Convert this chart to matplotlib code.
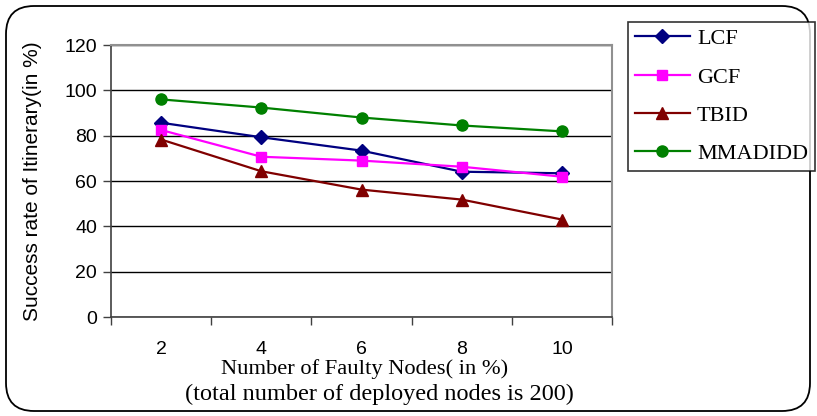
import numpy as np
import matplotlib.pyplot as plt
from matplotlib.patches import FancyBboxPatch
from matplotlib.transforms import IdentityTransform

# data
faulty_nodes = ["2", "4", "6", "8", "10"]
lcf = [85.7, 79.3, 73.4, 64.1, 63.4]
gcf = [82.5, 70.7, 69.0, 66.3, 61.9]
tbid = [78.3, 64.3, 56.2, 51.8, 43.0]
mmadidd = [96.0, 92.4, 88.0, 84.5, 81.9]

series = [
  ("LCF", lcf, "#000080", "D", 7),
  ("GCF", gcf, "#FF00FF", "s", 7),
  ("TBID", tbid, "#800000", "^", 8),
  ("MMADIDD", mmadidd, "#008000", "o", 8),
]

plt.rcParams["font.family"] = ["Liberation Sans", "DejaVu Sans"]

fig = plt.figure(figsize=(8.17, 4.16), dpi=100)
ax = fig.add_axes([111/817, 1 - 317/416, 501/817, 272/416])

x = np.arange(len(faulty_nodes))
for name, vals, col, mk, ms in series:
  ax.plot(x, vals, color=col, marker=mk, markersize=ms, linewidth=1.6, label=name)

ax.set_xlim(-0.5, len(faulty_nodes) - 0.5)
ax.set_ylim(0, 120)
ax.set_yticks(range(0, 121, 20))
ax.yaxis.grid(True, color="black", linewidth=1)
ax.set_axisbelow(True)

# category labels centred, tick marks between categories
ax.set_xticks(x)
ax.set_xticklabels(faulty_nodes)
ax.tick_params(axis="x", which="major", length=0, pad=17, labelsize=14)
ax.set_xticks(np.arange(-0.5, len(faulty_nodes)), minor=True)
ax.tick_params(axis="x", which="minor", length=6, width=1, color="#404040", direction="out")
ax.tick_params(axis="y", length=6, width=1, color="#404040", labelsize=14, pad=4)

for s in ["top", "right"]:
  ax.spines[s].set_color("#909090")
  ax.spines[s].set_linewidth(1.5)
for s in ["left", "bottom"]:
  ax.spines[s].set_color("#404040")
  ax.spines[s].set_linewidth(1.2)

ax.set_ylabel("Success rate of Itinerary(in %)", fontsize=15, labelpad=16)

fig.text(365/817, 1 - 369/416, "Number of Faulty Nodes( in %)",
         family="Liberation Serif", fontsize=16.2, ha="center", va="center")
fig.text(379/817, 1 - 394/416, "(total number of deployed nodes is 200)",
         family="Liberation Serif", fontsize=17.5, ha="center", va="center")

leg = fig.legend(loc="upper left", bbox_to_anchor=(628/817, 1 - 22/416),
                 prop={"family": "Liberation Serif", "size": 16},
                 frameon=True, fancybox=False, edgecolor="black",
                 handlelength=2.5, labelspacing=0.8, borderpad=0.3,
                 handletextpad=0.3, borderaxespad=0)
leg.get_frame().set_linewidth(1.2)

# rounded outer border
border = FancyBboxPatch((6, 5), 804, 405, boxstyle="round,pad=0,rounding_size=28",
                        transform=IdentityTransform(), facecolor="none",
                        edgecolor="black", linewidth=1.3)
fig.patches.append(border)

fig.savefig("out.png", dpi=100)
